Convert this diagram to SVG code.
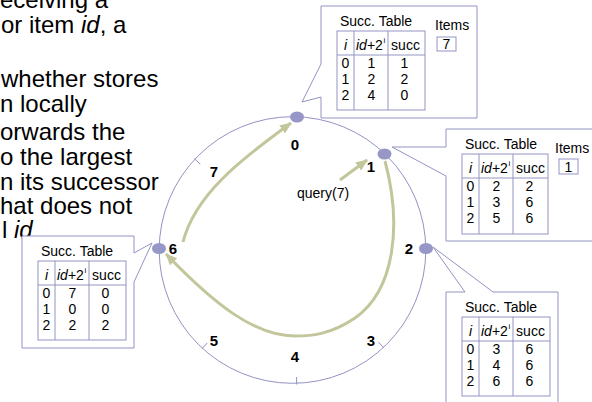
<svg xmlns="http://www.w3.org/2000/svg" width="592" height="402" viewBox="0 0 592 402">
<style>
.ln{fill:none;stroke:#9393c3;stroke-width:1}
.box{fill:#fff;stroke:#9393c3;stroke-width:1}
.nd{fill:#9797c7}
.t{font-family:"Liberation Sans",Arial,sans-serif;font-size:14px;fill:#000}
.m{text-anchor:middle}
.it{font-style:italic}
.sup{font-family:"Liberation Sans",Arial,sans-serif;font-size:8px;fill:#000}
.lab{font-family:"Liberation Sans",Arial,sans-serif;font-size:15px;font-weight:bold;fill:#000;text-anchor:middle}
.body{font-family:"Liberation Sans",Arial,sans-serif;font-size:24px;fill:#000}
.arr{fill:none;stroke:#c3c69b;stroke-width:3}
</style>
<defs>
<marker id="ah" markerUnits="userSpaceOnUse" markerWidth="12" markerHeight="10" refX="11" refY="5" orient="auto">
<path d="M0,0 L12,5 L0,10 z" fill="#c3c69b"/>
</marker>
</defs>

<g id="ring">
<circle class="ln" cx="292.5" cy="250" r="133.3"/>
<line class="ln" x1="194.4" y1="158.7" x2="200.3" y2="164.2"/>
<line class="ln" x1="201.9" y1="348.8" x2="207.3" y2="342.9"/>
<line class="ln" x1="378.4" y1="342.1" x2="383.9" y2="347.9"/>
<line class="ln" x1="296.5" y1="377" x2="296.7" y2="384.5"/>
<text class="lab" x="214" y="177">7</text>
<text class="lab" x="214" y="346">5</text>
<text class="lab" x="295" y="362">4</text>
<text class="lab" x="371" y="346">3</text>
</g>

<g id="intro">
<text class="body" x="0" y="8">eceiving a</text>
<text class="body" x="1" y="33">or item <tspan class="it">id</tspan>, a</text>
<text class="body" x="1" y="87">whether stores</text>
<text class="body" x="0" y="112">n locally</text>
<text class="body" x="0" y="140">orwards the</text>
<text class="body" x="0" y="165">o the largest</text>
<text class="body" x="0" y="190">n its successor</text>
<text class="body" x="0" y="214">hat does not</text>
<text class="body" x="2" y="238">l <tspan class="it">id</tspan></text>
</g>

<g id="node0">
<path class="box" d="M321,6 H477 V118 H321 V97 L302,102 L321,64 Z"/>
<g transform="translate(337,31)">
<rect class="ln" x="0" y="0" width="88" height="79"/>
<line class="ln" x1="17" y1="0" x2="17" y2="79"/>
<line class="ln" x1="51" y1="0" x2="51" y2="79"/>
<line class="ln" x1="0" y1="24" x2="88" y2="24"/>
<text class="t" x="3" y="-5">Succ. Table</text>
<text class="t m it" x="8.5" y="19">i</text>
<text class="t" x="19" y="19"><tspan class="it">id</tspan>+2</text>
<text class="sup" x="46.5" y="12">i</text>
<text class="t m" x="68.5" y="19">succ</text>
<text class="t m" x="8.5" y="37">0</text><text class="t m" x="34.5" y="37">1</text><text class="t m" x="67.5" y="37">1</text>
<text class="t m" x="8.5" y="53">1</text><text class="t m" x="34.5" y="53">2</text><text class="t m" x="67.5" y="53">2</text>
<text class="t m" x="8.5" y="69">2</text><text class="t m" x="34.5" y="69">4</text><text class="t m" x="67.5" y="69">0</text>
</g>
<text class="t" x="435" y="30">Items</text>
<rect class="ln" x="437" y="37" width="19" height="14"/>
<text class="t m" x="446.5" y="49">7</text>
<ellipse class="nd" cx="297" cy="117" rx="7" ry="5.5"/>
<text class="lab" x="295" y="150">0</text>
</g>

<g id="node1">
<path class="box" d="M446,129 H600 V241 H446 V176 L392,147 L446,147 Z"/>
<g transform="translate(462,154)">
<rect class="ln" x="0" y="0" width="86" height="80"/>
<line class="ln" x1="17" y1="0" x2="17" y2="80"/>
<line class="ln" x1="51" y1="0" x2="51" y2="80"/>
<line class="ln" x1="0" y1="24" x2="86" y2="24"/>
<text class="t" x="3" y="-5">Succ. Table</text>
<text class="t m it" x="8.5" y="19">i</text>
<text class="t" x="19" y="19"><tspan class="it">id</tspan>+2</text>
<text class="sup" x="46.5" y="12">i</text>
<text class="t m" x="68.5" y="19">succ</text>
<text class="t m" x="8.5" y="37">0</text><text class="t m" x="34.5" y="37">2</text><text class="t m" x="67.5" y="37">2</text>
<text class="t m" x="8.5" y="53">1</text><text class="t m" x="34.5" y="53">3</text><text class="t m" x="67.5" y="53">6</text>
<text class="t m" x="8.5" y="69">2</text><text class="t m" x="34.5" y="69">5</text><text class="t m" x="67.5" y="69">6</text>
</g>
<text class="t" x="555" y="153">Items</text>
<rect class="ln" x="559" y="159" width="19" height="15"/>
<text class="t m" x="568.5" y="171.5">1</text>
<ellipse class="nd" cx="384.5" cy="154" rx="7" ry="5.5"/>
<text class="lab" x="371" y="172">1</text>
</g>

<g id="node2">
<path class="box" d="M446,292 H465 L433,247 L493,292 H558 V404 H446 Z"/>
<g transform="translate(462,317)">
<rect class="ln" x="0" y="0" width="88" height="79"/>
<line class="ln" x1="17" y1="0" x2="17" y2="79"/>
<line class="ln" x1="51" y1="0" x2="51" y2="79"/>
<line class="ln" x1="0" y1="24" x2="88" y2="24"/>
<text class="t" x="3" y="-5">Succ. Table</text>
<text class="t m it" x="8.5" y="19">i</text>
<text class="t" x="19" y="19"><tspan class="it">id</tspan>+2</text>
<text class="sup" x="46.5" y="12">i</text>
<text class="t m" x="68.5" y="19">succ</text>
<text class="t m" x="8.5" y="37">0</text><text class="t m" x="34.5" y="37">3</text><text class="t m" x="67.5" y="37">6</text>
<text class="t m" x="8.5" y="53">1</text><text class="t m" x="34.5" y="53">4</text><text class="t m" x="67.5" y="53">6</text>
<text class="t m" x="8.5" y="69">2</text><text class="t m" x="34.5" y="69">6</text><text class="t m" x="67.5" y="69">6</text>
</g>
<ellipse class="nd" cx="426" cy="248.5" rx="7" ry="5.5"/>
<text class="lab" x="409" y="253.5">2</text>
</g>

<g id="node6">
<path class="box" d="M22,236 H134 V253 L152,243 L134,282 V348 H22 Z"/>
<g transform="translate(38,261)">
<rect class="ln" x="0" y="0" width="88" height="79"/>
<line class="ln" x1="17" y1="0" x2="17" y2="79"/>
<line class="ln" x1="51" y1="0" x2="51" y2="79"/>
<line class="ln" x1="0" y1="24" x2="88" y2="24"/>
<text class="t" x="3" y="-5">Succ. Table</text>
<text class="t m it" x="8.5" y="19">i</text>
<text class="t" x="19" y="19"><tspan class="it">id</tspan>+2</text>
<text class="sup" x="46.5" y="12">i</text>
<text class="t m" x="68.5" y="19">succ</text>
<text class="t m" x="8.5" y="37">0</text><text class="t m" x="34.5" y="37">7</text><text class="t m" x="67.5" y="37">0</text>
<text class="t m" x="8.5" y="53">1</text><text class="t m" x="34.5" y="53">0</text><text class="t m" x="67.5" y="53">0</text>
<text class="t m" x="8.5" y="69">2</text><text class="t m" x="34.5" y="69">2</text><text class="t m" x="67.5" y="69">2</text>
</g>
<ellipse class="nd" cx="159" cy="248.5" rx="7" ry="5.5"/>
<text class="lab" x="173" y="253.5">6</text>
</g>

<g id="connectors">
<path class="arr" d="M340,180 L367,160" marker-end="url(#ah)"/>
<path class="arr" d="M385,161 C402,225 395,290 355,318 C330,335 310,336 295,336 C255,336 215,305 166,254" marker-end="url(#ah)"/>
<path class="arr" d="M183,242 C195,195 240,160 291,123" marker-end="url(#ah)"/>
<text class="t" x="297" y="198">query(7)</text>
</g>
</svg>
